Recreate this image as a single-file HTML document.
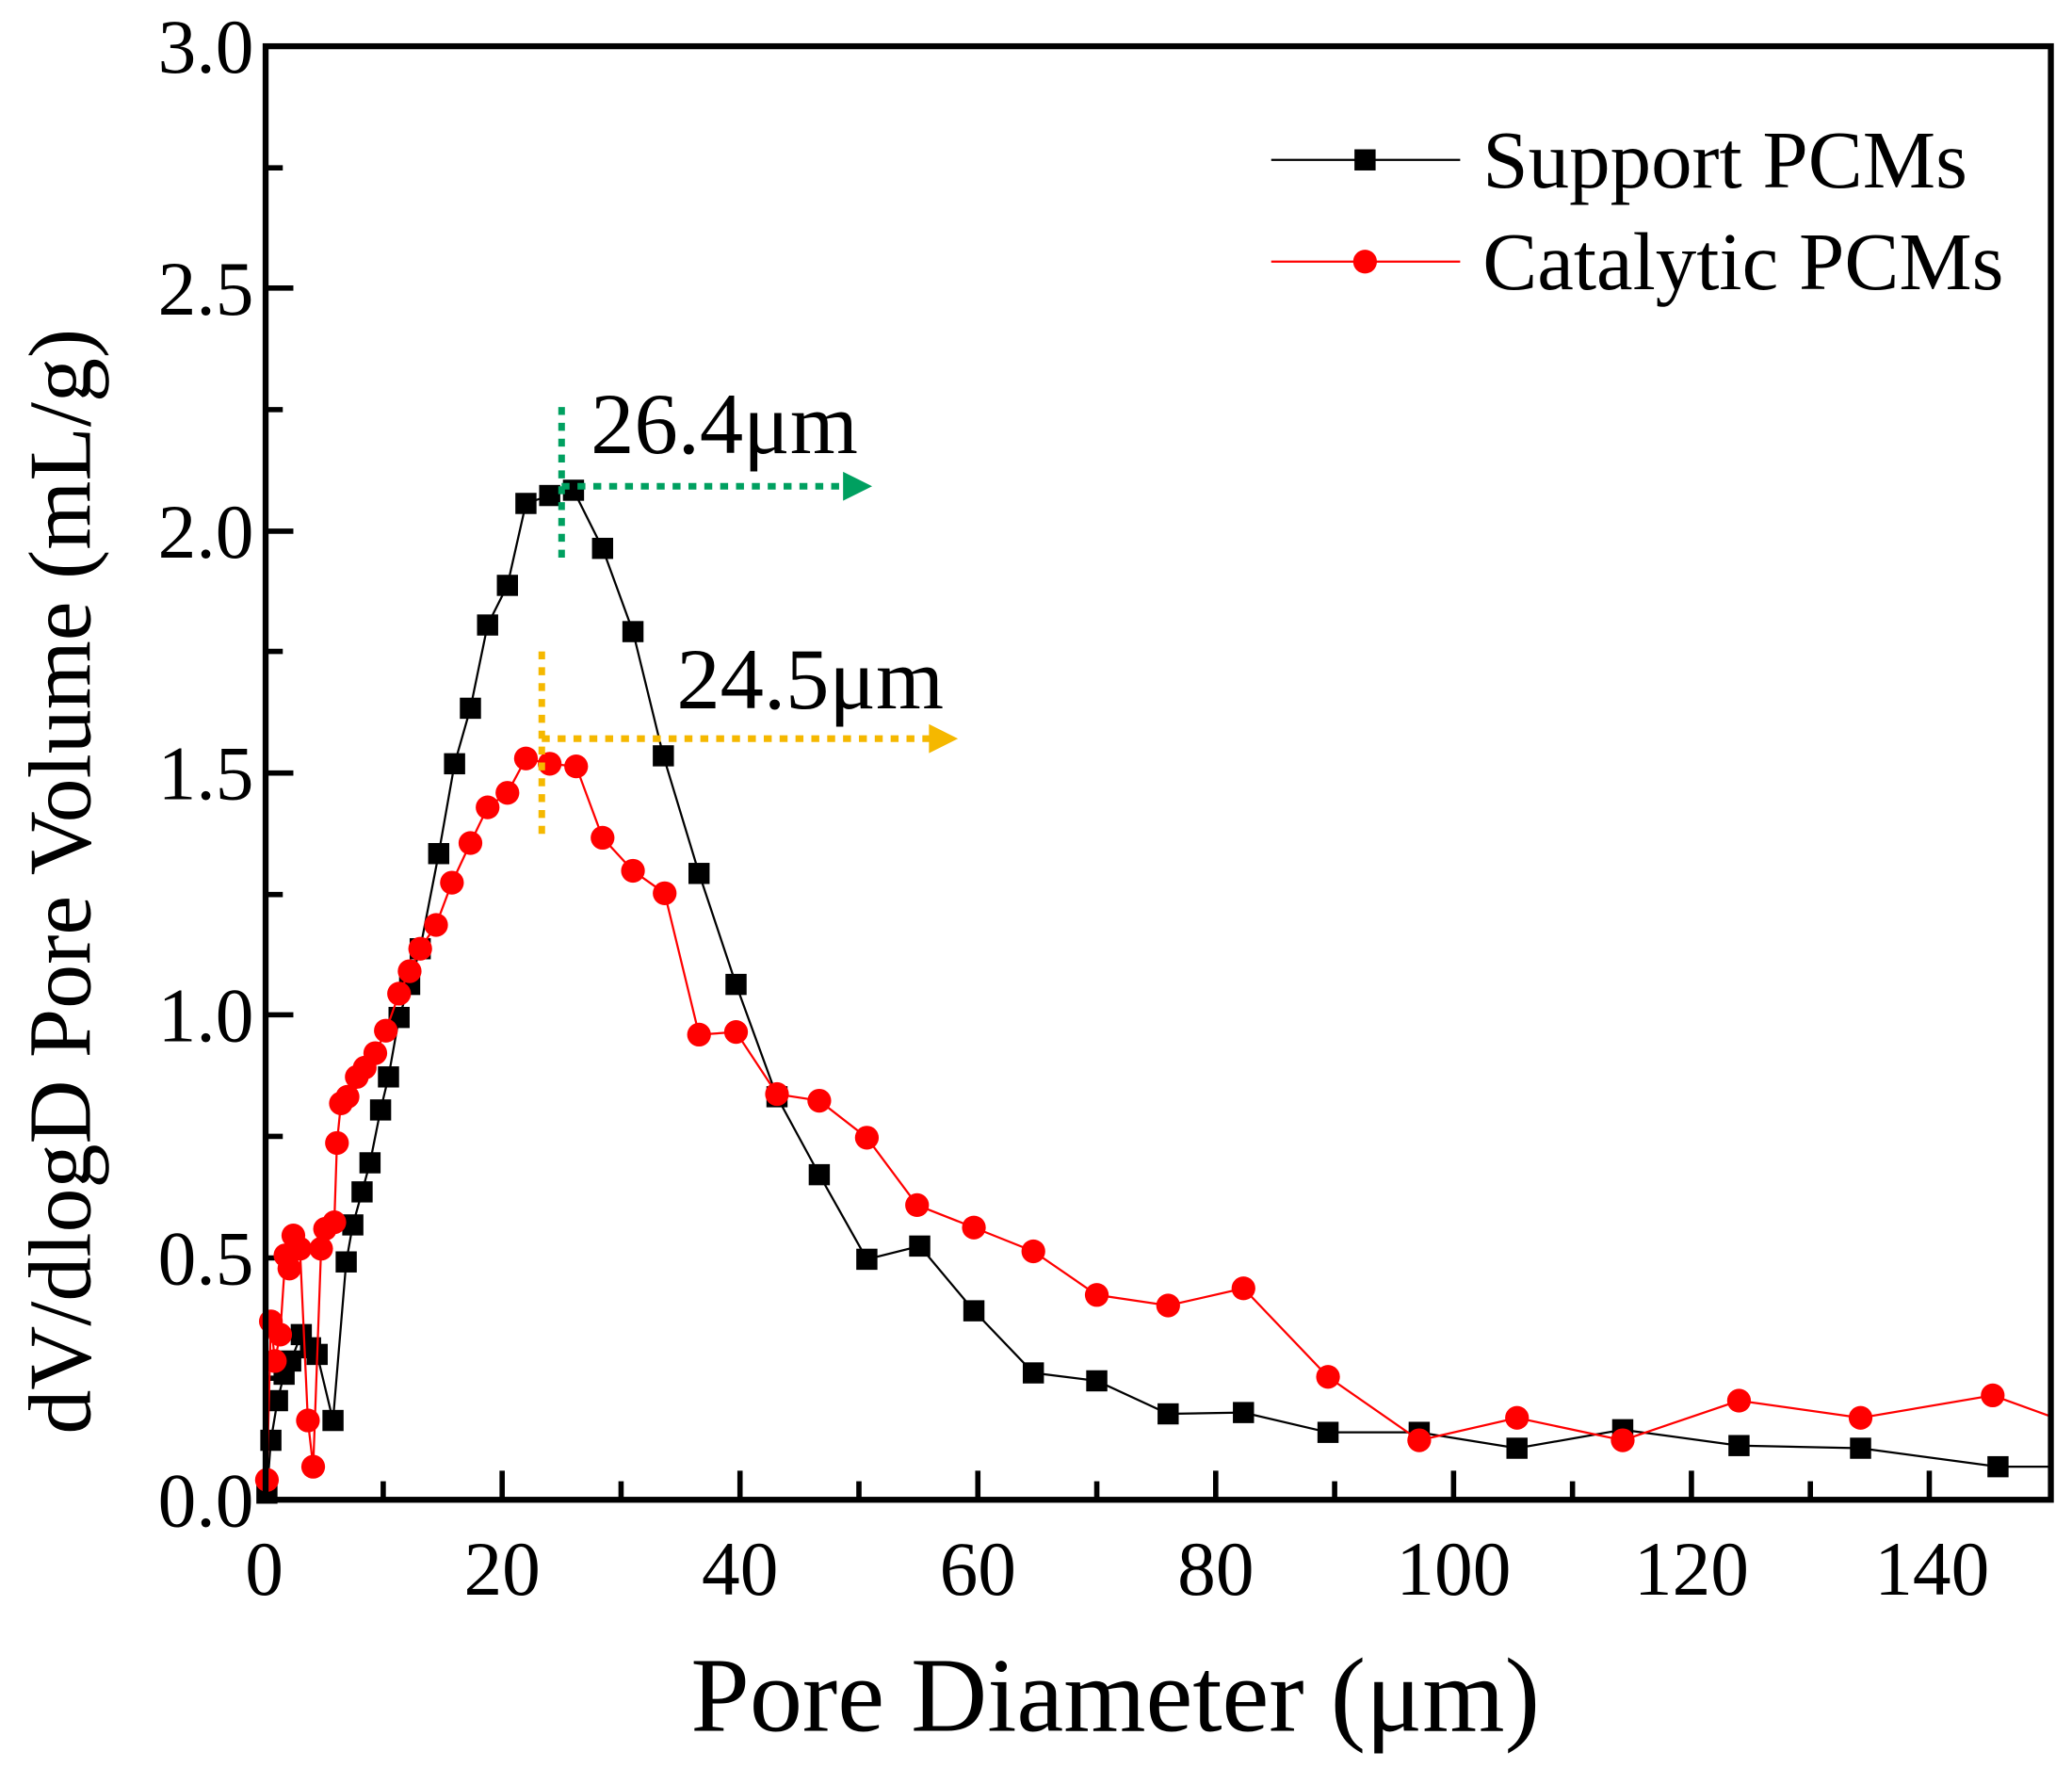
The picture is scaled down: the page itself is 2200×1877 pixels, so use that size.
<!DOCTYPE html>
<html><head><meta charset="utf-8"><style>html,body{margin:0;padding:0;background:#fff}svg{display:block}</style></head>
<body>
<svg width="2200" height="1877" viewBox="0 0 1568 1338" preserveAspectRatio="none" xmlns="http://www.w3.org/2000/svg" font-family="Liberation Serif, serif">
<rect width="1568" height="1338" fill="#fff"/>
<g stroke="#000" stroke-width="4">
<line x1="200" y1="1135" x2="222" y2="1135"/><line x1="200" y1="1043" x2="214" y2="1043"/>
<line x1="200" y1="952" x2="222" y2="952"/><line x1="200" y1="860" x2="214" y2="860"/>
<line x1="200" y1="768" x2="222" y2="768"/><line x1="200" y1="677" x2="214" y2="677"/>
<line x1="200" y1="585" x2="222" y2="585"/><line x1="200" y1="493" x2="214" y2="493"/>
<line x1="200" y1="402" x2="222" y2="402"/><line x1="200" y1="310" x2="214" y2="310"/>
<line x1="200" y1="218" x2="222" y2="218"/><line x1="200" y1="127" x2="214" y2="127"/>
<line x1="290" y1="1135" x2="290" y2="1121"/><line x1="380" y1="1135" x2="380" y2="1113"/>
<line x1="470" y1="1135" x2="470" y2="1121"/><line x1="560" y1="1135" x2="560" y2="1113"/>
<line x1="650" y1="1135" x2="650" y2="1121"/><line x1="740" y1="1135" x2="740" y2="1113"/>
<line x1="830" y1="1135" x2="830" y2="1121"/><line x1="920" y1="1135" x2="920" y2="1113"/>
<line x1="1010" y1="1135" x2="1010" y2="1121"/><line x1="1100" y1="1135" x2="1100" y2="1113"/>
<line x1="1190" y1="1135" x2="1190" y2="1121"/><line x1="1280" y1="1135" x2="1280" y2="1113"/>
<line x1="1370" y1="1135" x2="1370" y2="1121"/><line x1="1460" y1="1135" x2="1460" y2="1113"/>
</g>
<g font-size="58" text-anchor="end" fill="#000">
<text x="192" y="1155">0.0</text><text x="192" y="972">0.5</text><text x="192" y="788">1.0</text>
<text x="192" y="605">1.5</text><text x="192" y="422">2.0</text><text x="192" y="238">2.5</text><text x="192" y="55">3.0</text>
</g>
<g font-size="58" text-anchor="middle" fill="#000">
<text x="200" y="1207">0</text><text x="380" y="1207">20</text><text x="560" y="1207">40</text><text x="740" y="1207">60</text>
<text x="920" y="1207">80</text><text x="1100" y="1207">100</text><text x="1280" y="1207">120</text><text x="1462" y="1207">140</text>
</g>
<text x="844" y="1310" font-size="80" text-anchor="middle">Pore Diameter (μm)</text>
<text transform="translate(68,667) rotate(-90)" font-size="67" text-anchor="middle">dV/dlogD Pore Volume (mL/g)</text>
<polyline fill="none" stroke="#000" stroke-width="1.6" points="202,1130 205,1090 210,1060 215,1040 220,1030 228,1010 235,1020 240,1025 252,1075 262,955 267,927 274,902 280,880 288,840 294,815 302,770 310,745 318,718 332,646 344,578 356,536 369,473 384,443 398,381 416,375 434,371 456,415 479,478 502,572 529,661 557,745 588,830 620,889 656,953 696,943 737,992 782,1039 830,1045 884,1070 941,1069 1005,1084 1074,1084 1148,1096 1228,1082 1316,1094 1408,1096 1512,1110 1552,1110"/>
<g fill="#000" id="sq"></g>
<polyline fill="none" stroke="#f00" stroke-width="1.6" points="202,1120 205,1000 208,1030 212,1010 216,950 219,960 222,935 227,945 233,1075 237,1110 243,945 246,930 253,925 255,865 258,835 263,830 270,815 276,808 284,797 292,780 302,752 310,735 318,718 330,700 342,668 356,638 369,611 384,600 398,574 416,578 436,580 456,634 479,659 503,676 529,783 557,781 588,828 620,833 656,861 694,912 737,929 782,947 830,980 884,988 941,975 1005,1042 1074,1090 1148,1073 1228,1090 1316,1060 1408,1073 1508,1056 1552,1072"/>
<g fill="#f00" id="ci"></g>
<script>
(function(){
var b="202,1130 205,1090 210,1060 215,1040 220,1030 228,1010 235,1020 240,1025 252,1075 262,955 267,927 274,902 280,880 288,840 294,815 302,770 310,745 318,718 332,646 344,578 356,536 369,473 384,443 398,381 416,375 434,371 456,415 479,478 502,572 529,661 557,745 588,830 620,889 656,953 696,943 737,992 782,1039 830,1045 884,1070 941,1069 1005,1084 1074,1084 1148,1096 1228,1082 1316,1094 1408,1096 1512,1110";
var r="202,1120 205,1000 208,1030 212,1010 216,950 219,960 222,935 227,945 233,1075 237,1110 243,945 246,930 253,925 255,865 258,835 263,830 270,815 276,808 284,797 292,780 302,752 310,735 318,718 330,700 342,668 356,638 369,611 384,600 398,574 416,578 436,580 456,634 479,659 503,676 529,783 557,781 588,828 620,833 656,861 694,912 737,929 782,947 830,980 884,988 941,975 1005,1042 1074,1090 1148,1073 1228,1090 1316,1060 1408,1073 1508,1056";
var ns="http://www.w3.org/2000/svg";
var g=document.getElementById('sq');
b.split(' ').forEach(function(p){var a=p.split(',');var e=document.createElementNS(ns,'rect');e.setAttribute('x',a[0]-8);e.setAttribute('y',a[1]-8);e.setAttribute('width',16);e.setAttribute('height',16);g.appendChild(e);});
var c=document.getElementById('ci');
r.split(' ').forEach(function(p){var a=p.split(',');var e=document.createElementNS(ns,'circle');e.setAttribute('cx',a[0]);e.setAttribute('cy',a[1]);e.setAttribute('r',9);c.appendChild(e);});
})();
</script>
<g stroke-dasharray="6,6" stroke-width="5" fill="none">
<line x1="425" y1="308" x2="425" y2="428" stroke="#00a060"/>
<line x1="425" y1="368" x2="642" y2="368" stroke="#00a060"/>
<line x1="410" y1="493" x2="410" y2="632" stroke="#f5b800"/>
<line x1="410" y1="559" x2="705" y2="559" stroke="#f5b800"/>
</g>
<polygon points="638,357 660,368 638,379" fill="#00a060"/>
<polygon points="703,548 725,559 703,570" fill="#f5b800"/>
<text x="447" y="343" font-size="66">26.4μm</text>
<text x="512" y="536" font-size="66">24.5μm</text>
<line x1="962" y1="121" x2="1105" y2="121" stroke="#000" stroke-width="1.6"/>
<rect x="1025" y="113" width="16" height="16" fill="#000"/>
<text x="1122" y="142" font-size="62">Support PCMs</text>
<line x1="962" y1="198" x2="1105" y2="198" stroke="#f00" stroke-width="1.6"/>
<circle cx="1033" cy="198" r="9" fill="#f00"/>
<text x="1122" y="219" font-size="62">Catalytic PCMs</text>
<rect x="201" y="35" width="1351" height="1100" fill="none" stroke="#000" stroke-width="4.5"/>
</svg>
</body></html>
